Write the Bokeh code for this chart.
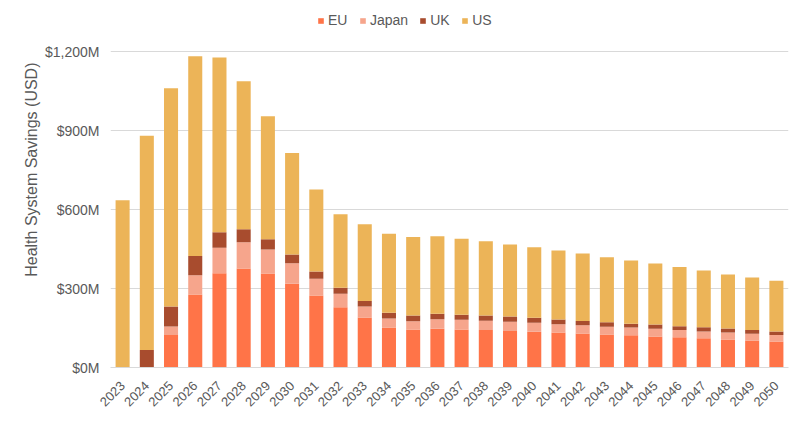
from math import pi

from bokeh.embed import file_html
from bokeh.models import (ColumnDataSource, CustomJSTickFormatter, FixedTicker,
                          FactorRange, Legend, LegendItem, Range1d, Title)
from bokeh.plotting import figure
from bokeh.resources import INLINE

# Annual health system savings by region, millions of USD
years = [str(y) for y in range(2023, 2051)]
eu = [0, 0, 123, 277, 358, 376, 357, 318, 273, 229, 190, 152, 144, 147, 144,
      142, 139, 136, 133, 129, 125, 122, 118, 115, 111, 106, 103, 99]
japan = [0, 0, 33, 73, 97, 100, 91, 78, 64, 51, 42, 34, 32, 36, 37,
         36, 35, 34, 31, 31, 30, 30, 29, 27, 26, 27, 25, 24]
uk = [0, 66, 76, 73, 59, 49, 39, 33, 28, 23, 21, 22, 21, 21, 19,
      19, 20, 19, 18, 17, 17, 14, 16, 15, 16, 15, 14, 14]
us = [635, 814, 828, 759, 663, 562, 467, 386, 311, 279, 291, 300, 299, 294, 289,
      282, 273, 268, 262, 256, 247, 240, 232, 225, 215, 205, 200, 192]

series = ["EU", "Japan", "UK", "US"]
colors = ["#FF7448", "#F6A58C", "#A84C2E", "#ECB458"]
y_ticks = [0, 300, 600, 900, 1200]

source = ColumnDataSource(dict(year=years, EU=eu, Japan=japan, UK=uk, US=us))

FONT = "Liberation Sans"
TEXT = "#595959"

# frame: 0..1200 spans 316 px; the frame runs 46 px higher to hold the legend
TOP_PAD, AXIS_PX = 46, 316
y_max = 1200 * (AXIS_PX + TOP_PAD) / AXIS_PX

p = figure(
    x_range=FactorRange(*years, range_padding=0),
    y_range=Range1d(0, y_max),
    width=808, height=423,
    output_backend="svg", toolbar_location=None,
    min_border_left=110, min_border_right=20,
    min_border_top=5, min_border_bottom=56,
    outline_line_color=None,
)

renderers = p.vbar_stack(series, x="year", width=0.58, color=colors,
                         line_color=None, source=source)

# horizontal legend centred over the whole chart width
legend = Legend(
    items=[LegendItem(label=s, renderers=[r]) for s, r in zip(series, renderers)],
    orientation="horizontal", location=(207, 339),
    label_text_font=FONT, label_text_font_size="14px", label_text_color=TEXT,
    glyph_width=7, glyph_height=7, label_standoff=4, spacing=11,
    label_height=16, padding=4, margin=0,
    border_line_color=None, background_fill_alpha=0,
)
p.add_layout(legend)

# y axis
p.yaxis.ticker = FixedTicker(ticks=y_ticks)
p.yaxis.formatter = CustomJSTickFormatter(code="""
    return '$' + tick.toString().replace(/\\B(?=(\\d{3})+(?!\\d))/g, ',') + 'M';
""")
p.yaxis.axis_line_color = None
p.yaxis.major_tick_line_color = None
p.yaxis.minor_tick_line_color = None
p.yaxis.major_label_text_font = FONT
p.yaxis.major_label_text_font_size = "14px"
p.yaxis.major_label_text_color = TEXT

# y axis title, placed over the upper part of the value scale
p.add_layout(Title(text="Health System Savings (USD)", align="right", offset=57,
                   text_font=FONT, text_font_size="16px", text_font_style="normal",
                   text_color=TEXT, standoff=5), "left")

# x axis
p.xaxis.axis_line_color = "#D9D9D9"
p.xaxis.major_tick_line_color = None
p.xaxis.minor_tick_line_color = None
p.xaxis.major_label_orientation = pi / 4
p.xaxis.major_label_standoff = 10
p.xaxis.major_label_text_font = FONT
p.xaxis.major_label_text_font_size = "13px"
p.xaxis.major_label_text_color = TEXT

p.xgrid.grid_line_color = None
p.ygrid.grid_line_color = "#D9D9D9"

open("out.html", "w").write(file_html(p, INLINE))
